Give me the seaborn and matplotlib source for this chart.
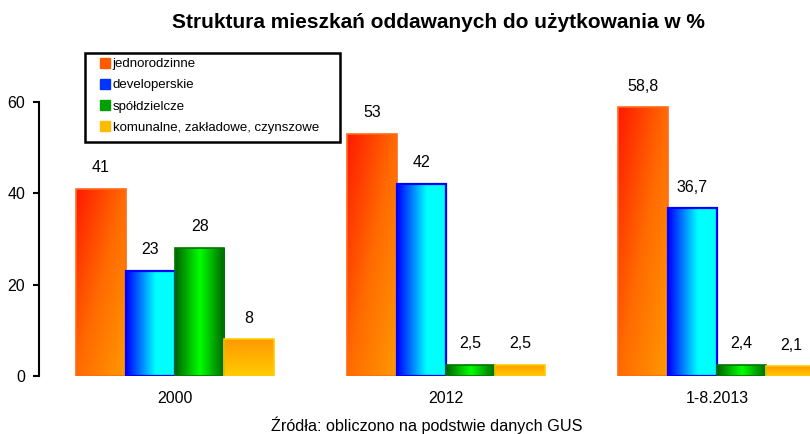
import seaborn as sns
import matplotlib.pyplot as plt
import matplotlib.colors as mcolors
from matplotlib.patches import Patch, Rectangle
import pandas as pd
import numpy as np

# dane
kategorie = ['2000', '2012', '1-8.2013']
serie = ['jednorodzinne', 'developerskie', 'spółdzielcze',
         'komunalne, zakładowe, czynszowe']
jednorodzinne = [41, 53, 58.8]
developerskie = [23, 42, 36.7]
spoldzielcze = [28, 2.5, 2.4]
komunalne = [8, 2.5, 2.1]

df = pd.DataFrame({
    'rok': kategorie * 4,
    'typ': [s for s in serie for _ in kategorie],
    'udzial': jednorodzinne + developerskie + spoldzielcze + komunalne,
})

# gradienty dla kolejnych serii
cmaps = [
    mcolors.LinearSegmentedColormap.from_list('o', ['#ff1a00', '#ff6a00', '#ff9900']),
    mcolors.LinearSegmentedColormap.from_list('b', [(0, '#0000ff'), (0.6, '#00ffff'), (1, '#00ffff')]),
    mcolors.LinearSegmentedColormap.from_list('g', [(0, '#006600'), (0.5, '#00ff00'), (1, '#006600')]),
    mcolors.LinearSegmentedColormap.from_list('y', ['#ffcc00', '#ff9900']),
]
krawedzie = ['#ff6a1a', '#0000ff', '#007700', '#ffcc00']
legenda_kolory = ['#ff5a00', '#0033ff', '#00a000', '#ffbb00']

plt.rcParams['font.family'] = ['Liberation Sans', 'DejaVu Sans']

fig = plt.figure(figsize=(8.1, 4.34), dpi=100)
ax = fig.add_axes([39 / 810, 1 - 376 / 434, 1 - 39 / 810, 274 / 434])

sns.barplot(data=df, x='rok', y='udzial', hue='typ', order=kategorie,
            hue_order=serie, width=0.73, legend=False, ax=ax)

n = len(kategorie)
u = np.linspace(0, 1, 60)
U, V = np.meshgrid(u, u)
for i, p in enumerate(ax.patches):
    s = i // n
    x0, y0 = p.get_x(), p.get_y()
    w, h = p.get_width(), p.get_height()
    if s == 0:
        arr = (U + (1 - V)) / 2
    elif s in (1, 2):
        arr = U
    else:
        arr = V
    im = ax.imshow(arr, cmap=cmaps[s], vmin=0, vmax=1, origin='lower',
                   extent=(x0, x0 + w, y0, y0 + h), aspect='auto', zorder=2,
                   interpolation='bilinear')
    im.set_clip_path(p)
    p.set_facecolor('none')
    p.set_edgecolor(krawedzie[s])
    p.set_linewidth(1.6 if s == 1 else 1.2)
    p.set_zorder(3)
    etykieta = f'{p.get_height():g}'.replace('.', ',')
    ax.annotate(etykieta, (x0 + w / 2, y0 + h), xytext=(0, 10),
                textcoords='offset points', ha='center', va='bottom',
                fontsize=11.5, annotation_clip=False)

ax.set_xlim(-0.502, (810 - 175) / 271)
ax.set_ylim(0, 60)
ax.set_yticks([0, 20, 40, 60])
ax.set_xlabel('')
ax.set_ylabel('')
for side in ['top', 'right', 'bottom']:
    ax.spines[side].set_visible(False)
ax.spines['left'].set_linewidth(1.5)
ax.tick_params(axis='y', length=4, width=1.5, pad=6, labelsize=11.5)
ax.tick_params(axis='x', length=0, pad=11, labelsize=11.5)

# ramka legendy rysowana osobno
ramka = Rectangle((85 / 810, 1 - 142 / 434), 255 / 810, 89 / 434,
                  transform=fig.transFigure, facecolor='white',
                  edgecolor='black', linewidth=1.8, zorder=4, clip_on=False)
ax.add_artist(ramka)

uchwyty = [Patch(facecolor=c, edgecolor=c) for c in legenda_kolory]
leg = ax.legend(uchwyty, serie, loc='upper left',
                bbox_to_anchor=(97 / 810, 1 - 55 / 434),
                bbox_transform=fig.transFigure, borderaxespad=0,
                fontsize=9.5, frameon=False,
                handlelength=0.8, handleheight=0.8, handletextpad=0.2,
                labelspacing=0.65, borderpad=0.2)
leg.set_zorder(5)

fig.text(438 / 810, 1 - 22 / 434, 'Struktura mieszkań oddawanych do użytkowania w %',
         ha='center', va='center', fontsize=15, fontweight='bold')
fig.text(427 / 810, 1 - 425 / 434, 'Źródła: obliczono na podstwie danych GUS',
         ha='center', va='center', fontsize=11.7)

fig.savefig('out.png', dpi=100)
